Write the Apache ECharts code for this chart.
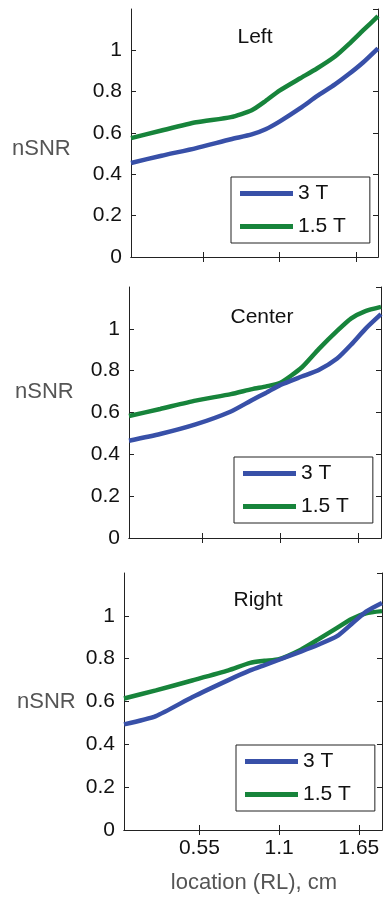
<!DOCTYPE html>
<html>
<head>
<meta charset="utf-8">
<script src="https://cdn.jsdelivr.net/npm/echarts@6/dist/echarts.min.js"></script>
<style>
  html, body { margin: 0; padding: 0; background: #fff; }
  #chart { width: 383px; height: 901px; }
</style>
</head>
<body>
<div id="chart"></div>
<script>
// sampled positions along RL (cm), shared by all three panels
const xs = [0.03, 0.25, 0.5, 0.75, 0.9, 1.0, 1.1, 1.25, 1.37, 1.5, 1.6, 1.7, 1.81]

// nSNR values
const left3T = [0.455, 0.49, 0.527, 0.57, 0.593, 0.618, 0.655, 0.72, 0.778, 0.835, 0.885, 0.94, 1.01]
const left15T = [0.575, 0.612, 0.652, 0.677, 0.71, 0.755, 0.805, 0.865, 0.912, 0.97, 1.03, 1.095, 1.165]
const center3T = [0.465, 0.497, 0.543, 0.605, 0.66, 0.695, 0.732, 0.772, 0.803, 0.858, 0.925, 1.0, 1.07]
const center15T = [0.583, 0.617, 0.657, 0.688, 0.712, 0.725, 0.742, 0.815, 0.903, 0.99, 1.05, 1.085, 1.105]
const right3T = [0.493, 0.532, 0.62, 0.7, 0.745, 0.77, 0.795, 0.833, 0.865, 0.905, 0.962, 1.02, 1.06]
const right15T = [0.614, 0.652, 0.698, 0.745, 0.78, 0.79, 0.798, 0.842, 0.89, 0.944, 0.985, 1.012, 1.022]

const xTicks = [0.55, 1.1, 1.65]
const panelTitles = ['Left', 'Center', 'Right']
const seriesNames = ['3 T', '1.5 T']

const BLUE = '#3850a8'
const GREEN = '#17843b'
const AXIS = '#222'
const FONT = 'Arial, "Liberation Sans", sans-serif'

// per-panel layout (pixels)
const panels = [
  { grid: { left: 131, top: 9, width: 247, height: 248 }, legend: { left: 231, top: 177 }, title: [255, 37], ylabel: [12, 149], data: [left3T, left15T] },
  { grid: { left: 129, top: 287, width: 252, height: 251 }, legend: { left: 234, top: 457 }, title: [262, 317], ylabel: [15, 392], data: [center3T, center15T] },
  { grid: { left: 124, top: 573, width: 258, height: 257 }, legend: { left: 236, top: 745 }, title: [258, 600], ylabel: [17, 702], data: [right3T, right15T] }
]

function pairs (ys) {
  return xs.map((x, i) => [x, ys[i]])
}

const grid = []
const xAxis = []
const yAxis = []
const series = []
const legend = []
const graphic = []

panels.forEach((p, i) => {
  grid.push(p.grid)
  const last = i === panels.length - 1
  // bottom + top x axes (matlab box)
  ;['bottom', 'top'].forEach(pos => {
    xAxis.push({
      type: 'value',
      gridIndex: i,
      position: pos,
      min: 0.03,
      max: 1.81,
      axisLine: { show: true, lineStyle: { color: AXIS, width: 1 } },
      axisTick: { show: true, inside: true, length: 5, customValues: xTicks, lineStyle: { color: AXIS } },
      axisLabel: {
        show: pos === 'bottom' && last,
        customValues: xTicks,
        margin: 8,
        fontSize: 21,
        fontFamily: FONT,
        color: '#111'
      },
      splitLine: { show: false }
    })
  })
  ;['left', 'right'].forEach(pos => {
    yAxis.push({
      type: 'value',
      gridIndex: i,
      position: pos,
      min: 0,
      max: 1.2,
      interval: 0.2,
      axisLine: { show: true, lineStyle: { color: AXIS, width: 1 } },
      axisTick: { show: true, inside: true, length: 5, lineStyle: { color: AXIS } },
      axisLabel: {
        show: pos === 'left',
        showMaxLabel: false,
        margin: 9,
        fontSize: 21,
        fontFamily: FONT,
        color: '#111'
      },
      splitLine: { show: false }
    })
  })
  seriesNames.forEach((name, k) => {
    series.push({
      name: name,
      type: 'line',
      xAxisIndex: i * 2,
      yAxisIndex: i * 2,
      data: pairs(p.data[k]),
      smooth: 0.2,
      symbol: 'none',
      z: k === 0 ? 3 : 2,
      lineStyle: { color: k === 0 ? BLUE : GREEN, width: 4.5 },
      itemStyle: { color: k === 0 ? BLUE : GREEN }
    })
  })
  legend.push({
    left: p.legend.left,
    top: p.legend.top,
    orient: 'vertical',
    data: seriesNames,
    icon: 'rect',
    itemWidth: 53,
    itemHeight: 5,
    itemGap: 12,
    padding: [6, 24, 6, 9],
    borderColor: AXIS,
    borderWidth: 1,
    borderRadius: 0,
    backgroundColor: '#fff',
    selectedMode: false,
    textStyle: { fontSize: 21, fontFamily: FONT, color: '#111' }
  })
  graphic.push({
    type: 'text',
    x: p.title[0],
    y: p.title[1],
    style: { text: panelTitles[i], fontSize: 21, fontFamily: FONT, fill: '#111', textAlign: 'center', textVerticalAlign: 'middle' }
  })
  graphic.push({
    type: 'text',
    x: p.ylabel[0],
    y: p.ylabel[1],
    style: { text: 'nSNR', fontSize: 22, fontFamily: FONT, fill: '#555', textAlign: 'left', textVerticalAlign: 'middle' }
  })
})

graphic.push({
  type: 'text',
  x: 254,
  y: 883,
  style: { text: 'location (RL), cm', fontSize: 22, fontFamily: FONT, fill: '#555', textAlign: 'center', textVerticalAlign: 'middle' }
})

const chart = echarts.init(document.getElementById('chart'))
chart.setOption({
  animation: false,
  backgroundColor: '#fff',
  grid: grid,
  xAxis: xAxis,
  yAxis: yAxis,
  legend: legend,
  graphic: graphic,
  series: series
})
</script>
</body>
</html>
